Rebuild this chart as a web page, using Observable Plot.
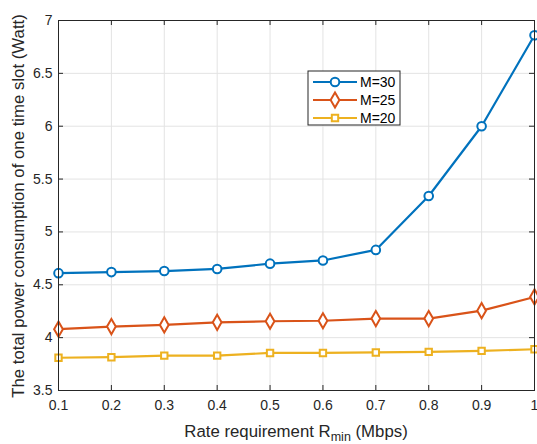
<!DOCTYPE html>
<html><head><meta charset="utf-8">
<script src="https://cdn.jsdelivr.net/npm/d3@7"></script>
<script src="https://cdn.jsdelivr.net/npm/@observablehq/plot@0.6"></script>
<style>body{margin:0;background:#fff;font-family:"Liberation Sans",Arial,sans-serif;} #c{position:relative;width:537px;height:444px;}</style>
</head><body><div id="c"></div>
<script>
const rates = [0.1,0.2,0.3,0.4,0.5,0.6,0.7,0.8,0.9,1.0];
const m30 = [4.61,4.62,4.63,4.65,4.70,4.73,4.83,5.34,6.00,6.86];
const m25 = [4.08,4.105,4.12,4.145,4.155,4.16,4.18,4.18,4.255,4.385];
const m20 = [3.81,3.815,3.83,3.83,3.855,3.855,3.86,3.865,3.875,3.89];
const seriesNames = ["M=30","M=25","M=20"];
const seriesColors = ["#0072BD","#D95319","#EDB120"];
const seriesSymbols = ["circle","diamond","square"];
const xTicks = [0.1,0.2,0.3,0.4,0.5,0.6,0.7,0.8,0.9,1];
const yTicks = [3.5,4,4.5,5,5.5,6,6.5,7];

const allValues = [m30,m25,m20];
const data = [];
allValues.forEach((vals,i)=>vals.forEach((v,j)=>data.push({x:rates[j],y:v,s:seriesNames[i]})));

const W=537,H=444,mL=58,mR=3,mT=20,mB=54;
const fw=W-mL-mR, fh=H-mT-mB;
const tickLen=5;
const fontFam='"Liberation Sans",Arial,sans-serif';
const markerR=[4.3,4.6,3.6];

const marks = [
  Plot.gridX(xTicks,{stroke:"#e3e3e3",strokeOpacity:1}),
  Plot.gridY(yTicks,{stroke:"#e3e3e3",strokeOpacity:1}),
  Plot.tickX(xTicks,{x:d=>d,insetTop:fh-tickLen,stroke:"#262626"}),
  Plot.tickX(xTicks,{x:d=>d,insetBottom:fh-tickLen,stroke:"#262626"}),
  Plot.tickY(yTicks,{y:d=>d,insetRight:fw-tickLen,stroke:"#262626"}),
  Plot.tickY(yTicks,{y:d=>d,insetLeft:fw-tickLen,stroke:"#262626"}),
  Plot.axisX(xTicks,{tickSize:0,tickPadding:10,fontSize:14,fill:"#262626",label:null,tickFormat:d=>String(d)}),
  Plot.axisY(yTicks,{tickSize:0,tickPadding:6,fontSize:14,fill:"#262626",label:null,tickFormat:d=>String(d)}),
];
seriesNames.forEach((name,i)=>{
  const d = data.filter(r=>r.s===name);
  marks.push(Plot.line(d,{x:"x",y:"y",stroke:seriesColors[i],strokeWidth:2.2}));
  marks.push(Plot.dot(d,{x:"x",y:"y",symbol:seriesSymbols[i],r:markerR[i],stroke:seriesColors[i],strokeWidth:2,fill:"white"}));
});
marks.push(Plot.frame({stroke:"#262626"}));

const chart = Plot.plot({
  width:W,height:H,marginLeft:mL,marginRight:mR,marginTop:mT,marginBottom:mB,
  style:{fontFamily:fontFam,background:"white",overflow:"visible"},
  x:{domain:[0.1,1]},
  y:{domain:[3.5,7]},
  marks
});
document.getElementById("c").appendChild(chart);

const svg = d3.select(chart);
// y label
svg.append("text").attr("transform",`translate(24,${mT+fh/2+1}) rotate(-90)`)
  .attr("text-anchor","middle").attr("font-size",16.8).attr("fill","#262626")
  .attr("font-family",fontFam).text("The total power consumption of one time slot (Watt)");
// x label
const xl = svg.append("text").attr("x",mL+fw/2).attr("y",437).attr("text-anchor","middle")
  .attr("font-size",16.8).attr("fill","#262626").attr("font-family",fontFam);
xl.append("tspan").text("Rate requirement R");
xl.append("tspan").attr("font-size",12.5).attr("dy",4).text("min");
xl.append("tspan").attr("dy",-4).text(" (Mbps)");

// legend
const lg = svg.append("g").attr("transform","translate(308,71)");
lg.append("rect").attr("width",92).attr("height",54).attr("fill","white").attr("stroke","#262626").attr("stroke-width",1);
const symTypes = {circle:d3.symbolCircle, diamond:d3.symbolDiamond, square:d3.symbolSquare};
seriesNames.forEach((name,i)=>{
  const y=11+i*18;
  lg.append("line").attr("x1",5).attr("x2",49).attr("y1",y).attr("y2",y).attr("stroke",seriesColors[i]).attr("stroke-width",2.2);
  const sym = d3.symbol().type(symTypes[seriesSymbols[i]]).size(Math.PI*markerR[i]*markerR[i]);
  lg.append("path").attr("d",sym()).attr("transform",`translate(27,${y})`).attr("fill","white").attr("stroke",seriesColors[i]).attr("stroke-width",2);
  lg.append("text").attr("x",52).attr("y",y+5).attr("text-anchor","start").attr("font-size",14).attr("fill","#000").attr("font-family",fontFam).text(name);
});
</script></body></html>
